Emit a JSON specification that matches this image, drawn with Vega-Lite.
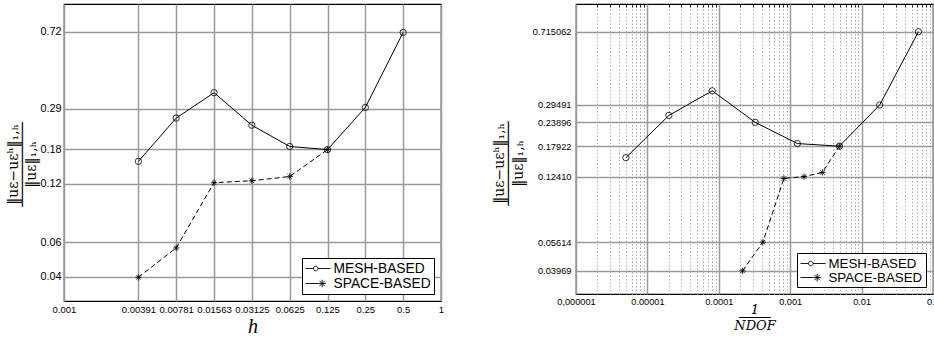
{
  "$schema": "https://vega.github.io/schema/vega-lite/v6.json",
  "padding": {"left": 5, "top": 3, "right": 0, "bottom": 0},
  "background": "white",
  "spacing": 47,
  "datasets": {
    "left": [
      {"h": 0.00391, "err": 0.156, "method": "MESH-BASED"},
      {"h": 0.00781, "err": 0.260, "method": "MESH-BASED"},
      {"h": 0.01563, "err": 0.351, "method": "MESH-BASED"},
      {"h": 0.03125, "err": 0.23896, "method": "MESH-BASED"},
      {"h": 0.0625, "err": 0.186, "method": "MESH-BASED"},
      {"h": 0.125, "err": 0.17922, "method": "MESH-BASED"},
      {"h": 0.25, "err": 0.29491, "method": "MESH-BASED"},
      {"h": 0.5, "err": 0.715062, "method": "MESH-BASED"},
      {"h": 0.00391, "err": 0.03969, "method": "SPACE-BASED"},
      {"h": 0.00781, "err": 0.05614, "method": "SPACE-BASED"},
      {"h": 0.01563, "err": 0.1213, "method": "SPACE-BASED"},
      {"h": 0.03125, "err": 0.1241, "method": "SPACE-BASED"},
      {"h": 0.0625, "err": 0.1304, "method": "SPACE-BASED"},
      {"h": 0.125, "err": 0.17922, "method": "SPACE-BASED"}
    ],
    "right": [
      {"n": 0.0000050, "err": 0.156, "method": "MESH-BASED"},
      {"n": 0.0000200, "err": 0.260, "method": "MESH-BASED"},
      {"n": 0.0000810, "err": 0.350, "method": "MESH-BASED"},
      {"n": 0.000324, "err": 0.23896, "method": "MESH-BASED"},
      {"n": 0.00126, "err": 0.185, "method": "MESH-BASED"},
      {"n": 0.00489, "err": 0.17922, "method": "MESH-BASED"},
      {"n": 0.0179, "err": 0.29491, "method": "MESH-BASED"},
      {"n": 0.0626, "err": 0.715062, "method": "MESH-BASED"},
      {"n": 0.000215, "err": 0.03969, "method": "SPACE-BASED"},
      {"n": 0.000414, "err": 0.05614, "method": "SPACE-BASED"},
      {"n": 0.000816, "err": 0.1213, "method": "SPACE-BASED"},
      {"n": 0.00156, "err": 0.1241, "method": "SPACE-BASED"},
      {"n": 0.00282, "err": 0.1304, "method": "SPACE-BASED"},
      {"n": 0.00489, "err": 0.17922, "method": "SPACE-BASED"}
    ]
  },
  "hconcat": [
    {
      "width": 377,
      "height": 297,
      "data": {"name": "left"},
      "encoding": {
        "x": {"field": "h", "type": "quantitative",
          "scale": {"type": "log", "domain": [0.001, 1], "nice": false},
          "axis": {"values": [0.001, 0.00391, 0.00781, 0.01563, 0.03125, 0.0625, 0.125, 0.25, 0.5, 1],
            "labelExpr": "'' + datum.value", "labelFontSize": 9.5, "labelPadding": 3,
            "labelFlush": false, "labelOverlap": false,
            "grid": true, "gridColor": "#9a9a9a", "gridWidth": 1.5,
            "title": "h", "titleFont": "Liberation Serif", "titleFontStyle": "italic", "titleFontWeight": "normal",
            "titleFontSize": 20, "titlePadding": 3}},
        "y": {"field": "err", "type": "quantitative",
          "scale": {"type": "log", "domain": [0.03, 1], "nice": false},
          "axis": {"values": [0.04, 0.06, 0.12, 0.18, 0.29, 0.72],
            "labelExpr": "'' + datum.value", "labelFontSize": 10.8, "labelPadding": 3,
            "grid": true, "gridColor": "#9a9a9a", "gridWidth": 1.5,
            "title": ["‖uε−uεʰ‖₁,ₕ", "──────────", "‖uε‖₁,ₕ"],
            "titleFont": "DejaVu Serif", "titleFontWeight": "normal", "titleFontSize": 14,
            "titleLineHeight": 9.3, "titlePadding": 1, "titleY": 160}}
      },
      "layer": [
        {
          "transform": [{"filter": "datum.method === 'MESH-BASED'"}],
          "mark": {"type": "line", "color": "black", "strokeWidth": 1},
          "encoding": {}
        },
        {
          "transform": [{"filter": "datum.method === 'SPACE-BASED'"}],
          "mark": {"type": "line", "color": "black", "strokeWidth": 1, "strokeDash": [5, 3]},
          "encoding": {}
        },
        {
          "transform": [{"filter": "datum.method === 'MESH-BASED'"}],
          "mark": {"type": "point", "shape": "circle", "filled": false, "color": "black", "strokeWidth": 0.8, "opacity": 1, "size": 40}
        },
        {
          "transform": [{"filter": "datum.method === 'SPACE-BASED'"}],
          "mark": {"type": "point", "shape": "M-1,0L1,0M0,-1L0,1M-0.7,-0.7L0.7,0.7M-0.7,0.7L0.7,-0.7", "filled": false, "color": "black", "strokeWidth": 0.8, "opacity": 1, "size": 40}
        },
        {
          "mark": {"type": "point", "filled": false, "color": "black", "opacity": 0, "size": 40},
          "encoding": {
            "shape": {"field": "method", "type": "nominal",
              "scale": {"domain": ["MESH-BASED", "SPACE-BASED"],
                "range": ["M-1.79,0L-0.64,0M0,0L1.79,0M-0.64,0A0.32,0.32 0 1,1 0,0A0.32,0.32 0 1,1 -0.64,0",
                          "M-1.79,0L0.05,0M0.05,0L1.13,0M0.59,-0.54L0.59,0.54M0.21,-0.38L0.97,0.38M0.21,0.38L0.97,-0.38"]},
              "legend": {"title": null, "orient": "bottom-right", "offset": 7,
                "strokeColor": "black", "fillColor": "white", "padding": 3,
                "labelFont": "Liberation Sans", "labelFontSize": 13.8, "labelColor": "black",
                "symbolSize": 196, "symbolOffset": 5.5, "labelOffset": 8, "rowPadding": 0,
                "symbolOpacity": 1, "symbolStrokeColor": "black", "symbolFillColor": "transparent", "symbolStrokeWidth": 0.9}}
          }
        }
      ]
    },
    {
      "width": 357,
      "height": 290,
      "data": {"name": "right"},
      "resolve": {"axis": {"x": "independent"}},
      "encoding": {
        "y": {"field": "err", "type": "quantitative",
          "scale": {"type": "log", "domain": [0.03, 1], "nice": false},
          "axis": {"values": [0.03969, 0.05614, 0.1241, 0.17922, 0.23896, 0.29491, 0.715062],
            "labelExpr": "datum.value === 0.1241 ? '0.12410' : '' + datum.value",
            "labelFontSize": 9.3, "labelPadding": 5,
            "grid": true, "gridColor": "#9a9a9a", "gridWidth": 1.5,
            "title": ["‖uε−uεʰ‖₁,ₕ", "──────────", "‖uε‖₁,ₕ"],
            "titleFont": "DejaVu Serif", "titleFontWeight": "normal", "titleFontSize": 14,
            "titleLineHeight": 9.3, "titlePadding": 7, "titleY": 159}}
      },
      "layer": [
        {
          "transform": [{"filter": "datum.method === 'MESH-BASED'"}],
          "mark": {"type": "line", "color": "black", "strokeWidth": 1},
          "encoding": {
            "x": {"field": "n", "type": "quantitative",
              "scale": {"type": "log", "domain": [0.000001, 0.1], "nice": false},
              "axis": {"values": [0.000001, 0.00001, 0.0001, 0.001, 0.01, 0.1],
                "labelExpr": "datum.value < 0.000002 ? '0,000001' : '' + datum.value",
                "labelFontSize": 9.2, "labelPadding": 3, "labelFlush": false, "labelOverlap": false,
                "grid": true, "gridColor": "#9a9a9a", "gridWidth": 1.5,
                "title": ["1", "────", "NDOF"], "titleFont": "DejaVu Serif", "titleFontStyle": "italic",
                "titleFontWeight": "normal", "titleFontSize": 13, "titleLineHeight": 8, "titlePadding": -3}}
          }
        },
        {
          "transform": [{"filter": "datum.method === 'SPACE-BASED'"}],
          "mark": {"type": "line", "color": "black", "strokeWidth": 1, "strokeDash": [5, 3]},
          "encoding": {
            "x": {"field": "n", "type": "quantitative", "axis": null}
          }
        },
        {
          "transform": [{"filter": "datum.method === 'MESH-BASED'"}],
          "mark": {"type": "point", "shape": "circle", "filled": false, "color": "black", "strokeWidth": 0.8, "opacity": 1, "size": 40},
          "encoding": {
            "x": {"field": "n", "type": "quantitative",
              "axis": {"orient": "top", "values": [0.000002, 0.000003, 0.000004, 0.000005, 0.000006, 0.000007, 0.000008, 0.000009,
                0.00002, 0.00003, 0.00004, 0.00005, 0.00006, 0.00007, 0.00008, 0.00009,
                0.0002, 0.0003, 0.0004, 0.0005, 0.0006, 0.0007, 0.0008, 0.0009,
                0.002, 0.003, 0.004, 0.005, 0.006, 0.007, 0.008, 0.009,
                0.02, 0.03, 0.04, 0.05, 0.06, 0.07, 0.08, 0.09],
                "labels": false, "domain": false, "ticks": true, "tickSize": -3, "tickColor": "black", "tickWidth": 0.8,
                "grid": true, "gridDash": [1.5, 2], "gridColor": "#b0b0b0", "gridWidth": 1, "title": null}}
          }
        },
        {
          "transform": [{"filter": "datum.method === 'SPACE-BASED'"}],
          "mark": {"type": "point", "shape": "M-1,0L1,0M0,-1L0,1M-0.7,-0.7L0.7,0.7M-0.7,0.7L0.7,-0.7", "filled": false, "color": "black", "strokeWidth": 0.8, "opacity": 1, "size": 40},
          "encoding": {
            "x": {"field": "n", "type": "quantitative", "axis": null}
          }
        },
        {
          "mark": {"type": "point", "filled": false, "color": "black", "opacity": 0, "size": 40},
          "encoding": {
            "x": {"field": "n", "type": "quantitative", "axis": null},
            "shape": {"field": "method", "type": "nominal",
              "scale": {"domain": ["MESH-BASED", "SPACE-BASED"],
                "range": ["M-1.79,0L-0.64,0M0,0L1.79,0M-0.64,0A0.32,0.32 0 1,1 0,0A0.32,0.32 0 1,1 -0.64,0",
                          "M-1.79,0L0.05,0M0.05,0L1.13,0M0.59,-0.54L0.59,0.54M0.21,-0.38L0.97,0.38M0.21,0.38L0.97,-0.38"]},
              "legend": {"title": null, "orient": "bottom-right", "offset": 7,
                "strokeColor": "black", "fillColor": "white", "padding": 3,
                "labelFont": "Liberation Sans", "labelFontSize": 13.3, "labelColor": "black",
                "symbolSize": 196, "symbolOffset": 5.5, "labelOffset": 8, "rowPadding": 0,
                "symbolOpacity": 1, "symbolStrokeColor": "black", "symbolFillColor": "transparent", "symbolStrokeWidth": 0.9}}
          }
        }
      ]
    }
  ],
  "resolve": {"scale": {"shape": "independent"}, "legend": {"shape": "independent"}},
  "config": {
    "view": {"stroke": "black", "strokeWidth": 1.2},
    "axis": {"domain": false, "ticks": false, "labelFont": "Liberation Sans", "labelColor": "black", "titleColor": "black", "gridOpacity": 1}
  }
}
